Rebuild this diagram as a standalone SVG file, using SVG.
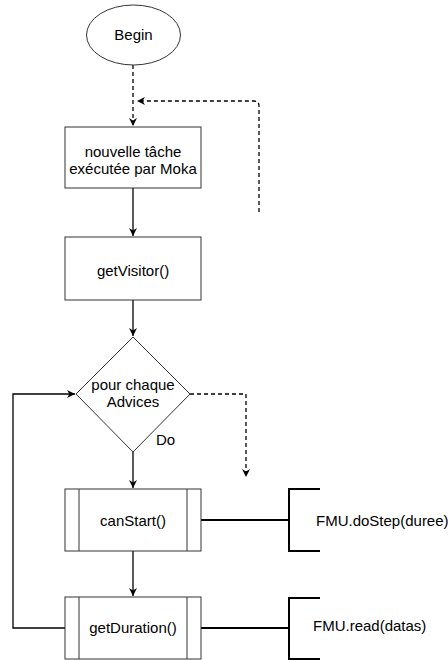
<svg xmlns="http://www.w3.org/2000/svg" width="448" height="660" viewBox="0 0 448 660">
<defs>
<style>
.n{fill:#fff;stroke:#333;stroke-width:1}
.t{font-family:"Liberation Sans",Arial,sans-serif;font-size:15px;fill:#000;text-anchor:middle}
.tl{font-family:"Liberation Sans",Arial,sans-serif;font-size:15px;fill:#000}
.c{fill:none;stroke:#000;stroke-width:1.3}
.d{fill:none;stroke:#000;stroke-width:1.3;stroke-dasharray:4,3}
.th{fill:none;stroke:#000;stroke-width:2}
</style>
<marker id="a" viewBox="0 0 10 10" refX="10" refY="5" markerWidth="8" markerHeight="8" orient="auto" markerUnits="userSpaceOnUse">
<path d="M0,0 L10,5 L0,10 L3,5 Z" fill="#000"/>
</marker>
</defs>
<g id="connectors">
<path class="d" d="M133,65 V126" marker-end="url(#a)"/>
<path class="d" d="M259,212 V106 Q259,101 254,101 H137" marker-end="url(#a)"/>
<path class="c" d="M133,188 V236" marker-end="url(#a)"/>
<path class="c" d="M133,300 V336" marker-end="url(#a)"/>
<path class="d" d="M190,394 H246 V477" marker-end="url(#a)"/>
<path class="c" d="M133,452 V488" marker-end="url(#a)"/>
<path class="c" d="M133,551 V596" marker-end="url(#a)"/>
<path class="c" d="M65,628 H13 V394 H75" marker-end="url(#a)"/>
<path class="th" d="M201,520 H289"/>
<path class="th" d="M201,628 H289"/>
</g>
<g id="begin">
<ellipse class="n" cx="133.5" cy="35" rx="47" ry="30"/>
<text class="t" x="133.5" y="40">Begin</text>
</g>
<g id="nouvelle">
<rect class="n" x="65" y="127" width="136" height="61"/>
<text class="t" x="133" y="157">nouvelle tâche</text>
<text class="t" x="133" y="174">exécutée par Moka</text>
</g>
<g id="getVisitor">
<rect class="n" x="65" y="237" width="136" height="63"/>
<text class="t" x="133" y="276">getVisitor()</text>
</g>
<g id="pourChaque">
<polygon class="n" points="133,337 190,394 133,452 76,394"/>
<text class="t" x="133" y="390">pour chaque</text>
<text class="t" x="133" y="407">Advices</text>
<text class="tl" x="156" y="445">Do</text>
</g>
<g id="canStart">
<rect class="n" x="65" y="489" width="136" height="62"/>
<line class="n" x1="79" y1="489" x2="79" y2="551"/>
<line class="n" x1="187" y1="489" x2="187" y2="551"/>
<text class="t" x="133" y="526">canStart()</text>
</g>
<g id="getDuration">
<rect class="n" x="65" y="597" width="136" height="62"/>
<line class="n" x1="79" y1="597" x2="79" y2="659"/>
<line class="n" x1="187" y1="597" x2="187" y2="659"/>
<text class="t" x="133" y="633">getDuration()</text>
</g>
<g id="doStep">
<path class="th" d="M320,489 H289 V551 H320"/>
<text class="tl" x="316" y="526">FMU.doStep(duree)</text>
</g>
<g id="read">
<path class="th" d="M320,598 H289 V659 H320"/>
<text class="tl" x="313" y="631">FMU.read(datas)</text>
</g>
</svg>
